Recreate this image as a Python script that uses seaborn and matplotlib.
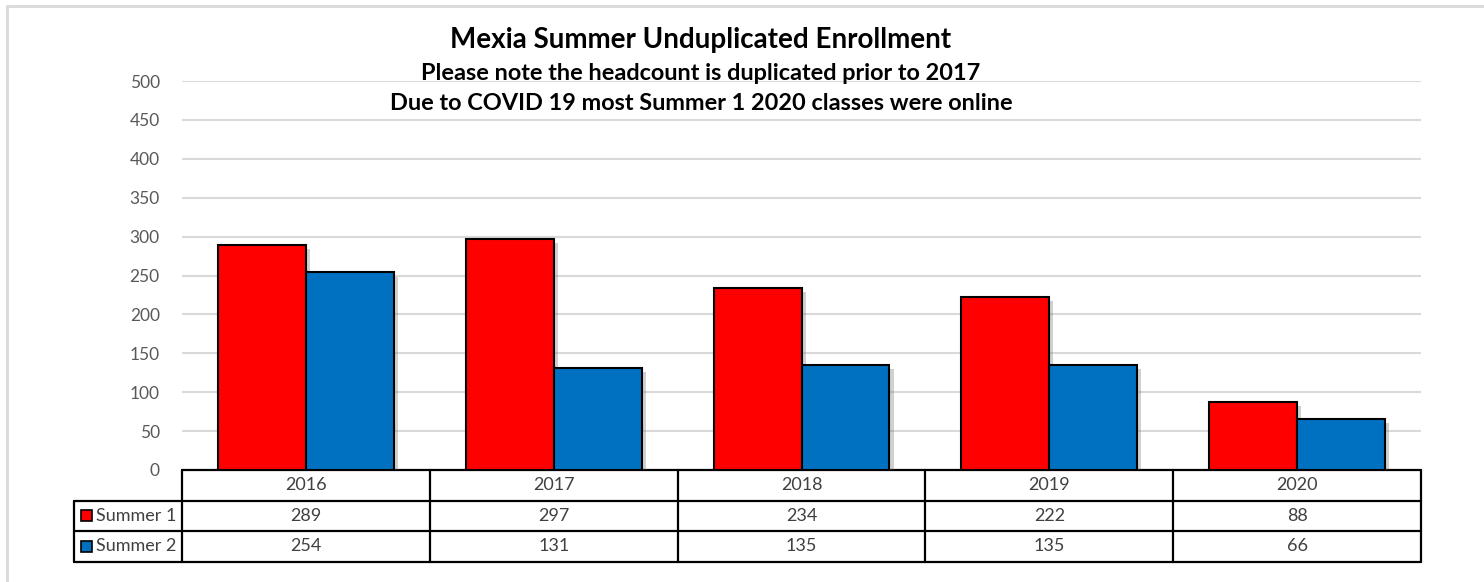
import numpy as np
import pandas as pd
import matplotlib.pyplot as plt
import matplotlib.patheffects as pe
from matplotlib.patches import Rectangle
from matplotlib.lines import Line2D
import seaborn as sns

years = ["2016", "2017", "2018", "2019", "2020"]
terms = ["Summer 1", "Summer 2"]
summer1 = [289, 297, 234, 222, 88]
summer2 = [254, 131, 135, 135, 66]
colors = ["#ff0000", "#0070c0"]

title = "Mexia Summer Unduplicated Enrollment"
subtitle1 = "Please note the headcount is duplicated prior to 2017"
subtitle2 = "Due to COVID 19 most Summer 1 2020 classes were online"

df = pd.DataFrame({
    "year": years * 2,
    "term": [terms[0]] * len(years) + [terms[1]] * len(years),
    "value": summer1 + summer2,
})

sns.set_style("white")
plt.rcParams["font.family"] = ["Lato", "DejaVu Sans"]

W, H = 1484, 582
fig = plt.figure(figsize=(W / 100, H / 100), dpi=100)

# plot area in pixels
L, R, T, B = 182, 1421, 81, 470
ax = fig.add_axes([L / W, 1 - B / H, (R - L) / W, (B - T) / H])

sns.barplot(data=df, x="year", y="value", hue="term", palette=colors,
            saturation=1, width=0.71, edgecolor="black", linewidth=1.5,
            ax=ax, legend=False, zorder=3)
for p in ax.patches:
    p.set_path_effects([pe.SimplePatchShadow(offset=(3, -3), alpha=0.3,
                                             shadow_rgbFace="#666666"),
                        pe.Normal()])

ax.set_ylim(0, 500)
ax.set_xlim(-0.5, len(years) - 0.5)
ax.set_yticks(np.arange(0, 501, 50))
ax.grid(axis="y", color="#d9d9d9", linewidth=1.5, zorder=0)
ax.set_axisbelow(True)
for s in ax.spines.values():
    s.set_visible(False)
ax.set_xticks([])
ax.set_xlabel("")
ax.set_ylabel("")
ax.tick_params(axis="y", length=0, pad=16, labelsize=12.5, labelcolor="#595959")

# data table under the plot
row_h = 30.5 / (B - T)
hdr_left = (74 - L) / (R - L)
lw = 1.6
ax_x = ax.get_xaxis_transform()
tr = ax.transAxes
n = len(years)
bottom = -3 * row_h
ax.add_line(Line2D([0, 1], [0, 0], transform=tr, color="black", lw=lw, clip_on=False))
for k in (1, 2, 3):
    ax.add_line(Line2D([hdr_left, 1], [-k * row_h] * 2, transform=tr,
                       color="black", lw=lw, clip_on=False))
for i in range(n + 1):
    ax.add_line(Line2D([i - 0.5] * 2, [0, bottom], transform=ax_x,
                       color="black", lw=lw, clip_on=False))
ax.add_line(Line2D([hdr_left] * 2, [-row_h, bottom], transform=tr,
                   color="black", lw=lw, clip_on=False))

txt_kw = dict(ha="center", va="center", fontsize=13, color="#404040",
              clip_on=False)
for i, y in enumerate(years):
    ax.text(i, -0.5 * row_h, y, transform=ax_x, **txt_kw)
    ax.text(i, -1.5 * row_h, str(summer1[i]), transform=ax_x, **txt_kw)
    ax.text(i, -2.5 * row_h, str(summer2[i]), transform=ax_x, **txt_kw)

sq_w = 11 / (R - L)
sq_h = 11 / (B - T)
for k, (t, c) in enumerate(zip(terms, colors)):
    yc = -(1.5 + k) * row_h
    ax.add_patch(Rectangle((hdr_left + 7 / (R - L), yc - sq_h / 2), sq_w, sq_h,
                           transform=tr, facecolor=c, edgecolor="black",
                           lw=1.2, clip_on=False))
    ax.text(hdr_left + 22 / (R - L), yc, t, transform=tr, ha="left",
            va="center", fontsize=13, color="#404040", clip_on=False)

# titles
fig.text(701 / W, 1 - 40 / H, title, ha="center", va="center",
         fontsize=20, fontweight="bold", color="black")
fig.text(701 / W, 1 - 73 / H, subtitle1, ha="center", va="center",
         fontsize=16.9, fontweight="bold", color="black")
fig.text(701 / W, 1 - 104 / H, subtitle2, ha="center", va="center",
         fontsize=16.9, fontweight="bold", color="black")

# chart border (top and left edges visible)
fig.add_artist(Line2D([6.5 / W, 1], [1 - 5.5 / H] * 2, transform=fig.transFigure,
                      color="#d9d9d9", lw=2))
fig.add_artist(Line2D([6.5 / W] * 2, [0, 1 - 5.5 / H], transform=fig.transFigure,
                      color="#d9d9d9", lw=2))

fig.savefig("out.png", dpi=100)
